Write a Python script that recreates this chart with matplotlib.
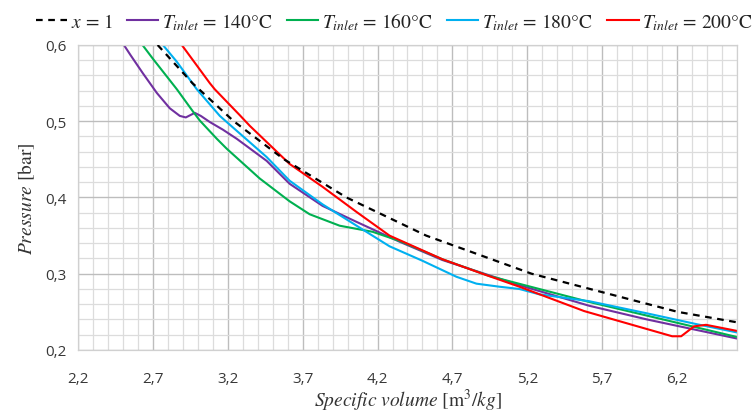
import matplotlib
matplotlib.use("Agg")
import matplotlib.pyplot as plt
import numpy as np
from matplotlib.ticker import MultipleLocator, FixedLocator, FuncFormatter

# Saturated vapour line (x = 1)
sat_v = [2.732, 2.964, 3.240, 3.576, 3.993, 4.525, 5.229, 6.204, 7.649]
sat_p = [0.60, 0.55, 0.50, 0.45, 0.40, 0.35, 0.30, 0.25, 0.20]

# T_inlet = 140 °C
t140_v = [2.49, 2.55, 2.633, 2.727, 2.813, 2.88, 2.92, 2.95, 2.98, 3.02, 3.08, 3.167,
          3.26, 3.46, 3.613, 3.833, 4.06, 4.347, 4.633, 5.147, 5.613, 6.0, 6.6]
t140_p = [0.605, 0.587, 0.563, 0.537, 0.517, 0.507, 0.505, 0.508, 0.511, 0.507, 0.499, 0.489,
          0.477, 0.448, 0.418, 0.389, 0.368, 0.342, 0.318, 0.285, 0.258, 0.240, 0.215]

# T_inlet = 160 °C
t160_v = [2.61, 2.627, 2.70, 2.86, 2.967, 3.013, 3.127, 3.193, 3.413, 3.613, 3.747, 3.947,
          4.167, 4.347, 4.633, 4.947, 5.28, 5.613, 6.0, 6.6]
t160_p = [0.605, 0.601, 0.582, 0.542, 0.513, 0.501, 0.477, 0.464, 0.425, 0.395, 0.378, 0.363,
          0.355, 0.343, 0.319, 0.297, 0.280, 0.263, 0.245, 0.217]

# T_inlet = 180 °C
t180_v = [2.76, 2.767, 2.86, 2.993, 3.147, 3.193, 3.28, 3.46, 3.613, 3.833, 4.06, 4.28, 4.50,
          4.727, 4.86, 5.013, 5.147, 5.28, 5.613, 6.0, 6.327, 6.6]
t180_p = [0.605, 0.600, 0.578, 0.542, 0.507, 0.499, 0.484, 0.453, 0.422, 0.391, 0.363, 0.336, 0.317,
          0.296, 0.287, 0.283, 0.280, 0.273, 0.264, 0.248, 0.234, 0.223]

# T_inlet = 200 °C
t200_v = [2.885, 2.893, 3.08, 3.113, 3.28, 3.347, 3.613, 3.833, 4.06, 4.28, 4.633, 4.90,
          5.147, 5.58, 5.9, 6.167, 6.227, 6.267, 6.313, 6.393, 6.6]
t200_p = [0.605, 0.600, 0.550, 0.542, 0.508, 0.494, 0.444, 0.414, 0.381, 0.350, 0.319, 0.300,
          0.283, 0.251, 0.233, 0.218, 0.218, 0.224, 0.231, 0.233, 0.225]

x_ticks = [2.2, 2.7, 3.2, 3.7, 4.2, 4.7, 5.2, 5.7, 6.2]
y_ticks = [0.2, 0.3, 0.4, 0.5, 0.6]

plt.rcParams['mathtext.fontset'] = 'stix'

fig = plt.figure(figsize=(7.54, 4.14), dpi=100)
ax = fig.add_axes([0.1034, 0.1522, 0.8741, 0.7367])

ax.plot(sat_v, sat_p, color='black', lw=1.6, ls=(0, (3, 2.5)), label=r'$x$ = 1', zorder=5)
ax.plot(t140_v, t140_p, color='#7030A0', lw=1.5, label=r'$T_{inlet}$ = 140°C')
ax.plot(t160_v, t160_p, color='#00B050', lw=1.5, label=r'$T_{inlet}$ = 160°C')
ax.plot(t180_v, t180_p, color='#00B0F0', lw=1.5, label=r'$T_{inlet}$ = 180°C')
ax.plot(t200_v, t200_p, color='#FF0000', lw=1.5, label=r'$T_{inlet}$ = 200°C')

ax.set_xlim(2.2, 6.6)
ax.set_ylim(0.2, 0.6)
ax.xaxis.set_major_locator(FixedLocator(x_ticks))
ax.xaxis.set_minor_locator(FixedLocator(np.round(np.arange(2.2, 6.61, 0.1), 2)))
ax.yaxis.set_major_locator(FixedLocator(y_ticks))
ax.yaxis.set_minor_locator(MultipleLocator(0.02))

fmt = FuncFormatter(lambda v, p: f"{v:.1f}".replace('.', ','))
ax.xaxis.set_major_formatter(fmt)
ax.yaxis.set_major_formatter(fmt)

ax.grid(which='major', color='#bdbdbd', lw=1.0)
ax.grid(which='minor', color='#dcdcdc', lw=0.9)
ax.set_axisbelow(True)
for s in ax.spines.values():
    s.set_color('#d0d0d0')
    s.set_linewidth(0.9)

ax.tick_params(which='both', length=0)
ax.tick_params(axis='x', pad=15, labelsize=11, labelcolor='#383838')
ax.tick_params(axis='y', pad=8, labelsize=11, labelcolor='#383838')
for lab in ax.get_xticklabels() + ax.get_yticklabels():
    lab.set_fontfamily('Open Sans')

ax.set_xlabel(r'$Specific\ volume\ [\mathrm{m}^3/kg]$', fontsize=14, color='#333333', labelpad=1)
ax.set_ylabel(r'$Pressure$ [bar]', fontsize=14, color='#333333', family='STIXGeneral', labelpad=6)

leg = fig.legend(loc='upper center', bbox_to_anchor=(0.523, 1.015), ncol=5, frameon=False,
                 handlelength=1.6, handletextpad=0.2, columnspacing=0.75,
                 prop={'family': 'STIXGeneral', 'size': 14})
for t in leg.get_texts():
    t.set_color('#222222')

fig.savefig('out.png', dpi=100)
